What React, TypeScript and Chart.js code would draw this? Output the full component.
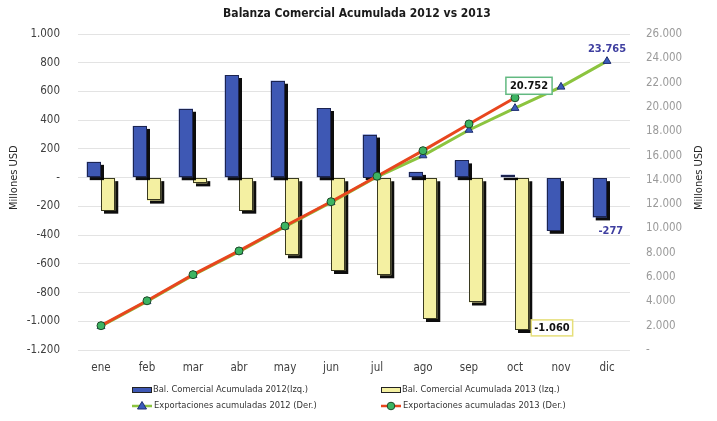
import React, { useEffect, useRef } from "react";
import { Chart, registerables } from "chart.js";

Chart.register(...registerables);

const months = ["ene", "feb", "mar", "abr", "may", "jun", "jul", "ago", "sep", "oct", "nov", "dic"];
const bal2012 = [110, 360, 480, 715, 675, 485, 300, 40, 120, 20, -370, -277];
const bal2013 = [-230, -160, -40, -230, -540, -650, -680, -985, -870, -1060, null, null];
const exp2012 = [1950, 4000, 6150, 8100, 10150, 12150, 14250, 16000, 18100, 19900, 21650, 23765];
const exp2013 = [2000, 4050, 6200, 8150, 10200, 12200, 14300, 16400, 18600, 20752, null, null];

const seriesLabels = [
  "Bal. Comercial Acumulada 2012(Izq.)",
  "Bal. Comercial Acumulada 2013 (Izq.)",
  "Exportaciones acumuladas 2012 (Der.)",
  "Exportaciones acumuladas 2013 (Der.)",
];
const titleText = "Balanza Comercial Acumulada 2012 vs 2013";
const axisTitle = "Millones USD";

const FONT = "'Liberation Sans Narrow', 'DejaVu Sans Condensed', 'Liberation Sans', Arial, sans-serif";
const BLUE = "#3E58B4";
const YELLOW = "#F4F0A2";
const GREEN = "#8CC43F";
const RED = "#E8461E";
const TRI = "#3B5CBA";
const CIRC = "#3CB462";
const LABEL_BLUE = "#3F3FA0";

function fmt(v: number): string {
  if (v === 0) return "-";
  const s = Math.abs(Math.round(v)).toString().replace(/\B(?=(\d{3})+(?!\d))/g, ".");
  return (v < 0 ? "-" : "") + s;
}

const shadowPlugin = {
  id: "barShadow",
  beforeDatasetDraw(chart: any, args: any) {
    const ds = chart.data.datasets[args.index];
    if (ds.type === "bar") {
      const ctx = chart.ctx;
      ctx.save();
      ctx.shadowColor = "rgba(0,0,0,0.95)";
      ctx.shadowOffsetX = 3;
      ctx.shadowOffsetY = 3;
      ctx.shadowBlur = 0;
    }
  },
  afterDatasetDraw(chart: any, args: any) {
    const ds = chart.data.datasets[args.index];
    if (ds.type !== "bar") return;
    const ctx = chart.ctx;
    ctx.restore();
    ctx.save();
    ctx.strokeStyle = ds.outlineColor || "#222";
    ctx.lineWidth = 1;
    args.meta.data.forEach((el: any, i: number) => {
      const v = ds.data[i];
      if (v === null || v === undefined || isNaN(el.y)) return;
      const l = el.x - el.width / 2;
      const top = Math.min(el.y, el.base);
      const h = Math.abs(el.base - el.y);
      ctx.strokeRect(Math.round(l) + 0.5, Math.round(top) + 0.5, Math.round(el.width) - 1, Math.max(Math.round(h) - 1, 0));
    });
    ctx.restore();
  },
};

const labelsPlugin = {
  id: "valueLabels",
  afterDatasetsDraw(chart: any) {
    const ctx = chart.ctx;
    ctx.save();
    ctx.font = `bold 11px ${FONT}`;
    ctx.textAlign = "center";
    ctx.textBaseline = "middle";

    const p12 = chart.getDatasetMeta(2).data[11];
    ctx.fillStyle = LABEL_BLUE;
    ctx.fillText(fmt(exp2012[11]), p12.x, p12.y - 12);

    const b12 = chart.getDatasetMeta(0).data[11];
    ctx.fillText(fmt(bal2012[11] as number), b12.x + 11, b12.y + 14);

    const p13 = chart.getDatasetMeta(3).data[9];
    const t1 = fmt(exp2013[9] as number);
    const w1 = ctx.measureText(t1).width + 8;
    const cx1 = p13.x + 14, cy1 = p13.y - 12;
    ctx.fillStyle = "#ffffff";
    ctx.fillRect(cx1 - w1 / 2, cy1 - 8.5, w1, 17);
    ctx.strokeStyle = "#62B981";
    ctx.lineWidth = 1.5;
    ctx.strokeRect(cx1 - w1 / 2, cy1 - 8.5, w1, 17);
    ctx.fillStyle = "#111111";
    ctx.fillText(t1, cx1, cy1);

    const b13 = chart.getDatasetMeta(1).data[9];
    const t2 = fmt(bal2013[9] as number);
    const w2 = ctx.measureText(t2).width + 6;
    const left2 = b13.x + b13.width / 2 + 2;
    const cy2 = b13.y - 2;
    ctx.fillStyle = "#ffffff";
    ctx.fillRect(left2, cy2 - 8, w2, 16);
    ctx.strokeStyle = "#E6DF7A";
    ctx.lineWidth = 1.5;
    ctx.strokeRect(left2, cy2 - 8, w2, 16);
    ctx.fillStyle = "#111111";
    ctx.fillText(t2, left2 + w2 / 2, cy2);
    ctx.restore();
  },
};

const chromePlugin = {
  id: "chrome",
  afterDraw(chart: any) {
    const ctx = chart.ctx;
    ctx.save();
    ctx.font = `bold 12px ${FONT}`;
    ctx.fillStyle = "#1a1a1a";
    ctx.textAlign = "center";
    ctx.textBaseline = "middle";
    ctx.fillText(titleText, 357, 14);

    ctx.font = `11px ${FONT}`;
    ctx.fillStyle = "#262626";
    const zeroY = chart.scales.y.getPixelForValue(0);
    [14, 699].forEach((x) => {
      ctx.save();
      ctx.translate(x, zeroY);
      ctx.rotate(-Math.PI / 2);
      ctx.fillText(axisTitle, 0, 0);
      ctx.restore();
    });

    ctx.font = `9.3px ${FONT}`;
    ctx.textAlign = "left";
    const cols = [132, 381];
    const rows = [390, 406];
    const sw = 20;
    [0, 1].forEach((i) => {
      const x = cols[i], y = rows[0];
      ctx.fillStyle = i === 0 ? BLUE : YELLOW;
      ctx.fillRect(x, y - 3, sw, 6);
      ctx.strokeStyle = "#222";
      ctx.lineWidth = 1;
      ctx.strokeRect(x + 0.5, y - 3 + 0.5, sw - 1, 5);
      ctx.fillStyle = "#333";
      ctx.fillText(seriesLabels[i], x + sw + 1, y);
    });
    [2, 3].forEach((i) => {
      const x = cols[i - 2], y = rows[1];
      ctx.strokeStyle = i === 2 ? GREEN : RED;
      ctx.lineWidth = 2.5;
      ctx.beginPath();
      ctx.moveTo(x, y);
      ctx.lineTo(x + sw, y);
      ctx.stroke();
      const mx = x + sw / 2;
      ctx.lineWidth = 1;
      if (i === 2) {
        ctx.fillStyle = TRI;
        ctx.strokeStyle = "#1E2E70";
        ctx.beginPath();
        ctx.moveTo(mx, y - 4.5);
        ctx.lineTo(mx + 4.5, y + 3);
        ctx.lineTo(mx - 4.5, y + 3);
        ctx.closePath();
        ctx.fill();
        ctx.stroke();
      } else {
        ctx.fillStyle = CIRC;
        ctx.strokeStyle = "#1E4A28";
        ctx.beginPath();
        ctx.arc(mx, y, 3.8, 0, Math.PI * 2);
        ctx.fill();
        ctx.stroke();
      }
      ctx.fillStyle = "#333";
      ctx.fillText(seriesLabels[i], x + sw + 2, y);
    });
    ctx.restore();
  },
};

export default function App() {
  const ref = useRef<HTMLCanvasElement | null>(null);

  useEffect(() => {
    if (!ref.current) return;
    const chart = new Chart(ref.current, {
      type: "bar",
      data: {
        labels: months,
        datasets: [
          {
            type: "bar",
            label: seriesLabels[0],
            data: bal2012,
            backgroundColor: BLUE,
            outlineColor: "#1c2450",
            borderWidth: 0,
            yAxisID: "y",
            order: 3,
            categoryPercentage: 0.62,
            barPercentage: 1.0,
          },
          {
            type: "bar",
            label: seriesLabels[1],
            data: bal2013,
            backgroundColor: YELLOW,
            outlineColor: "#3a3a20",
            borderWidth: 0,
            yAxisID: "y",
            order: 3,
            categoryPercentage: 0.62,
            barPercentage: 1.0,
          },
          {
            type: "line",
            label: seriesLabels[2],
            data: exp2012,
            borderColor: GREEN,
            borderWidth: 3,
            pointStyle: "triangle",
            pointRadius: 4.5,
            pointBackgroundColor: TRI,
            pointBorderColor: "#1E2E70",
            pointBorderWidth: 1,
            tension: 0,
            yAxisID: "y1",
            order: 2,
          },
          {
            type: "line",
            label: seriesLabels[3],
            data: exp2013,
            borderColor: RED,
            borderWidth: 3,
            pointStyle: "circle",
            pointRadius: 4,
            pointBackgroundColor: CIRC,
            pointBorderColor: "#1E4A28",
            pointBorderWidth: 1,
            tension: 0,
            yAxisID: "y1",
            order: 1,
          },
        ] as any,
      },
      options: {
        responsive: false,
        animation: false,
        devicePixelRatio: 1,
        layout: { padding: { top: 34, bottom: 41, left: 0, right: 0 } },
        plugins: {
          legend: { display: false },
          title: { display: false },
          tooltip: { enabled: false },
        },
        scales: {
          x: {
            grid: { display: false, drawTicks: false },
            border: { display: false },
            ticks: { color: "#404040", font: { family: FONT, size: 11.5 }, padding: 11 },
            afterFit: (s: any) => { s.height = 30; },
          },
          y: {
            position: "left",
            min: -1200,
            max: 1000,
            grid: { color: "#E3E3E3", drawTicks: false, lineWidth: 1 },
            border: { display: false },
            ticks: {
              stepSize: 200,
              color: "#404040",
              font: { family: FONT, size: 11.5 },
              padding: 18,
              callback: (v: any) => fmt(Number(v)),
            },
            afterFit: (s: any) => { s.width = 78; },
          },
          y1: {
            position: "right",
            min: 0,
            max: 26000,
            grid: { display: false, drawTicks: false },
            border: { display: false },
            ticks: {
              stepSize: 2000,
              color: "#9A9A9A",
              font: { family: FONT, size: 11.5 },
              padding: 16,
              callback: (v: any) => fmt(Number(v)),
            },
            afterFit: (s: any) => { s.width = 87; },
          },
        },
      } as any,
      plugins: [shadowPlugin, labelsPlugin, chromePlugin],
    });
    return () => chart.destroy();
  }, []);

  return (
    <div style={{ position: "absolute", left: 0, top: 0, width: 717, height: 421, background: "#ffffff" }}>
      <canvas ref={ref} width={717} height={421} style={{ display: "block" }} />
    </div>
  );
}
